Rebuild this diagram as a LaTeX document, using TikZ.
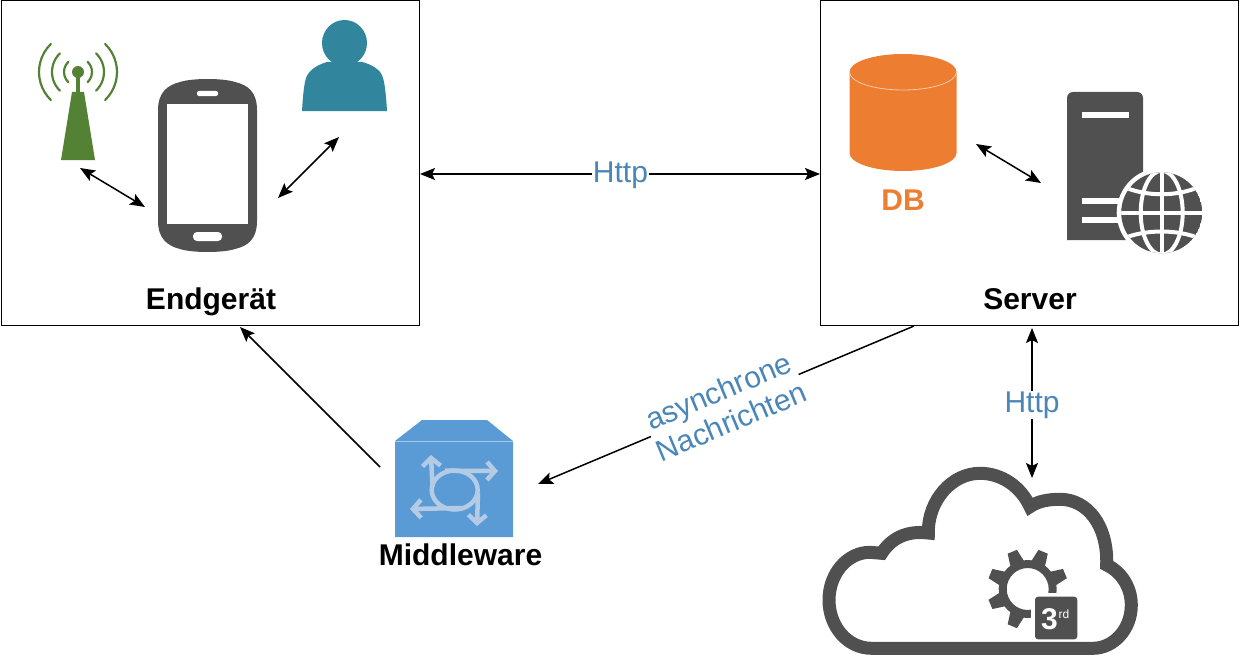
\documentclass[tikz,border=0pt]{standalone}
\usepackage{fontspec}
\setmainfont{Liberation Sans}
\usetikzlibrary{arrows.meta}
\definecolor{dark}{HTML}{505050}
\definecolor{tower}{HTML}{548235}
\definecolor{person}{HTML}{31859C}
\definecolor{orange}{HTML}{ED7D31}
\definecolor{mw}{HTML}{5B9BD5}
\definecolor{mwlight}{HTML}{B4CBE6}
\definecolor{lbl}{HTML}{4A86B8}
\tikzset{
  panel/.style={draw=black,line width=1pt,fill=white},
  conn/.style={draw=black,line width=1.5pt,{Stealth[length=15pt,width=12pt,inset=3pt]}-{Stealth[length=15pt,width=12pt,inset=3pt]}},
  oneway/.style={draw=black,line width=1.5pt,-{Stealth[length=15pt,width=12pt,inset=3pt]}},
  title/.style={font=\fontsize{30}{34}\selectfont\bfseries,text=black,inner sep=0pt},
  bluelbl/.style={font=\fontsize{30}{33}\selectfont,text=lbl,inner sep=1pt,align=center},
  wave/.style={draw=tower,line width=2.2pt,line cap=round},
  mwarrow/.style={draw=mwlight,line width=4.5pt,-{Straight Barb[length=8pt,width=18pt,line width=4.5pt]}},
  globeline/.style={draw=white,line width=4pt},
}
\begin{document}
\begin{tikzpicture}[x=1pt,y=-1pt]
\useasboundingbox (0,0) rectangle (1240,669);
\fill[white] (0,0) rectangle (1240,669);
% panels
\node[panel,minimum width=418pt,minimum height=324pt,inner sep=0pt] (endbox) at (210,163) {};
\node[panel,minimum width=418pt,minimum height=324pt,inner sep=0pt] (srvbox) at (1029,163) {};
\node[title] (endt) at (211,302) {Endgerät};
\node[title] (srvt) at (1030,299) {Server};
% tower
\fill[tower] (72,92) -- (84,92) -- (95,160) -- (61,160) -- cycle;
\fill[tower] (76.3,76) rectangle (79.7,93);
\fill[tower] (78,72) circle (6);
\foreach \r in {14,26,39}{
  \draw[wave] (78,72) ++(134:\r) arc (134:226:\r);
  \draw[wave] (78,72) ++(46:\r) arc (46:-46:\r);
}
% phone
\fill[dark] (158,110) .. controls (158,92) and (168,85) .. (180,82)
  .. controls (192,78) and (223,78) .. (235,82)
  .. controls (248,85) and (257,92) .. (257,110)
  -- (257,221) .. controls (257,239) and (248,246) .. (235,249)
  .. controls (223,253) and (192,253) .. (180,249)
  .. controls (168,246) and (158,239) .. (158,221) -- cycle;
\fill[white] (167,104) rectangle (248,224);
\fill[white,rounded corners=2pt] (197,91) rectangle (218,96);
\fill[white,rounded corners=4pt] (193,232) rectangle (222,241);
% person
\fill[person] (344.5,43) ellipse (22.5 and 23);
\fill[person] (302,111) .. controls (303,95) and (304,85) .. (306,78)
  .. controls (309,69) and (320,64) .. (327,62) -- (362,62)
  .. controls (370,64) and (381,69) .. (383,78)
  .. controls (385,85) and (386,95) .. (387,111) -- cycle;
% db
\fill[orange] (849.5,72) -- (849.5,153) arc[start angle=180,end angle=0,x radius=53.5,y radius=18] -- (956.5,72) arc[start angle=0,end angle=-180,x radius=53.5,y radius=18] -- cycle;
\draw[white!60!orange,line width=0.8pt] (849.5,72) arc[start angle=180,end angle=0,x radius=53.5,y radius=18];
\node[font=\fontsize{30}{33}\selectfont\bfseries,text=orange,inner sep=0pt] (dbt) at (903,200) {DB};
% web server
\fill[dark] (1067,240) -- (1067,98) arc[start angle=180,end angle=270,radius=6] -- (1137,92) arc[start angle=270,end angle=360,radius=6] -- (1143,240) -- cycle;
\fill[white] (1082,112) rectangle (1129,118);
\fill[white] (1082,198) rectangle (1125,204);
\fill[white] (1082,217) rectangle (1125,223);
\fill[white] (1161.7,212.7) circle (45);
\begin{scope}
\clip (1161.7,212.7) circle (40.5);
\fill[dark] (1161.7,212.7) circle (40.5);
\draw[globeline] (1161.7,165) -- (1161.7,260);
\draw[globeline] (1115,212.7) -- (1210,212.7);
\draw[globeline] (1161.7,212.7) ellipse (21 and 42);
\draw[globeline] (1122,186) .. controls (1145,197) and (1178,197) .. (1201,186);
\draw[globeline] (1122,239) .. controls (1145,229) and (1178,229) .. (1201,239);
\end{scope}
% middleware
\fill[mw] (395,441) -- (422,420) -- (487,420) -- (513,441) -- (513,537) -- (395,537) -- cycle;
\draw[white!45!mw,line width=0.8pt] (395,441) -- (513,441);
\draw[mwlight,line width=4.5pt] (454.7,490) ellipse (23 and 19.5);
\draw[mwarrow] (432.5,487) -- (431,455);
\draw[mwarrow] (445,470.7) -- (498,471);
\draw[mwarrow] (478,493) -- (477,526);
\draw[mwarrow] (463,508) -- (410,509);
\node[title] (mwt) at (460.5,555) {Middleware};
% cloud
\draw[dark,line width=13pt,line join=miter,miter limit=6,fill=white]
  (871.7,648.3) .. controls (847,648.3) and (829,626) .. (829,600)
  .. controls (829,574) and (847,552.3) .. (870,552.3) -- (881.7,553.3)
  .. controls (890,540) and (905,530) .. (928.3,533)
  .. controls (928,500) and (952,473.3) .. (980,473.3)
  .. controls (1002,473.3) and (1021,487) .. (1030,506.7)
  .. controls (1038,501) and (1049,499.3) .. (1060,499.3)
  .. controls (1087,499.3) and (1108,525) .. (1106.7,565)
  .. controls (1120,571) and (1131.3,586) .. (1131.3,605)
  .. controls (1131.3,630) and (1113,648.3) .. (1093,648.3) -- cycle;
% gear
\draw[dark,line width=8pt] (1027.7,589) circle (25);
\foreach \a in {22.5,67.5,...,337.5}{
  \fill[dark,rotate around={\a:(1027.7,589)}] (1054,581.5) -- (1068,584) -- (1068,594) -- (1054,596.5) -- cycle;
}
\fill[white] (1030.7,592.7) rectangle (1085,641);
\fill[dark,rounded corners=3pt] (1035,596.7) rectangle (1077.3,639.3);
\node[font=\fontsize{30}{32}\selectfont\bfseries,text=white,inner sep=0pt] (third) at (1049.5,619) {3};
\node[font=\fontsize{12}{13}\selectfont,text=white,inner sep=0pt] (rd) at (1064,614) {rd};
% connectors
\coordinate (a1) at (80,168); \coordinate (a2) at (145,207);
\coordinate (b1) at (278,198); \coordinate (b2) at (339,137);
\coordinate (c1) at (976,144); \coordinate (c2) at (1041,183);
\coordinate (d1) at (380,467); \coordinate (d2) at (240,327);
\coordinate (e1) at (914,326); \coordinate (e2) at (538,484);
\coordinate (f1) at (1032,328); \coordinate (f2) at (1032,478);
\coordinate (g1) at (420,174); \coordinate (g2) at (820,174);
\draw[conn] (a1) -- (a2);
\draw[conn] (b1) -- (b2);
\draw[conn] (c1) -- (c2);
\draw[oneway] (d1) -- (d2);
\draw[oneway] (e1) -- (e2);
\draw[conn] (f1) -- (f2);
\draw[conn] (g1) -- (g2);
\node[bluelbl,fill=white] (h1) at (620.5,175.5) {Http};
\node[bluelbl,fill=white] (h2) at (1032,405) {Http};
\node[bluelbl,fill=white,rotate=22.8,inner sep=0pt] (h3) at (725,406) {asynchrone\\Nachrichten};
\end{tikzpicture}
\end{document}
